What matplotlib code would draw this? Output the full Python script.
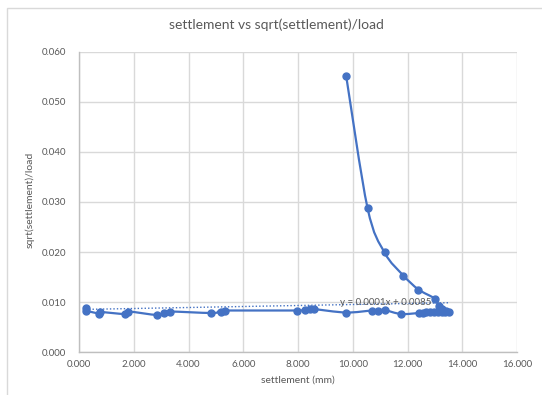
import numpy as np
import matplotlib
matplotlib.use("Agg")
import matplotlib.pyplot as plt
from matplotlib.path import Path
from matplotlib.patches import PathPatch, Rectangle
from matplotlib.ticker import FormatStrFormatter

# settlement (mm) and sqrt(settlement)/load, in test order
settlement = [9.76, 10.54, 11.16, 11.85, 12.40, 12.99, 13.14, 13.26, 13.42, 13.50,
              13.38, 13.25, 13.10, 12.95, 12.82, 12.68, 12.55, 12.41, 11.76, 11.16,
              10.94, 10.70, 9.75, 8.57, 8.45, 8.26, 7.96, 5.34, 5.18, 4.83,
              3.33, 3.12, 2.86, 1.80, 1.68, 0.77, 0.73, 0.25, 0.24]
ratio = [0.0552, 0.0288, 0.0199, 0.0153, 0.0125, 0.0107, 0.0093, 0.0086, 0.0082, 0.0081,
         0.0080, 0.0080, 0.0081, 0.0080, 0.0080, 0.0080, 0.0079, 0.0078, 0.0076, 0.0084,
         0.0083, 0.0083, 0.0079, 0.0086, 0.0086, 0.0085, 0.0083, 0.0083, 0.0081, 0.0078,
         0.0081, 0.0079, 0.0074, 0.0081, 0.0076, 0.0080, 0.0077, 0.0083, 0.0088]

# linear trendline as reported on the chart
trend_slope = 0.0001
trend_intercept = 0.0085
trend_label = "y = 0.0001x + 0.0085"

x_ticks = [0, 2, 4, 6, 8, 10, 12, 14, 16]
y_ticks = [0.0, 0.01, 0.02, 0.03, 0.04, 0.05, 0.06]

BLUE = "#4472C4"
TEXT = "#595959"
GRID = "#D9D9D9"
FONT = "Lato"

plt.rcParams["font.family"] = [FONT, "DejaVu Sans"]

W, H = 542, 395
fig = plt.figure(figsize=(W / 100, H / 100), dpi=100)
fig.patch.set_facecolor("white")

# chart frame
fig.patches.append(Rectangle((6.5 / W, -0.05), 1.2, (H - 7.5) / H + 0.05,
                             transform=fig.transFigure, fill=False,
                             edgecolor=GRID, linewidth=1.0))

ax = fig.add_axes([79 / W, (H - 352) / H, (517 - 79) / W, (352 - 52) / H])
ax.set_xlim(x_ticks[0], x_ticks[-1])
ax.set_ylim(y_ticks[0], y_ticks[-1])
ax.set_xticks(x_ticks)
ax.set_yticks(y_ticks)
ax.xaxis.set_major_formatter(FormatStrFormatter("%.3f"))
ax.yaxis.set_major_formatter(FormatStrFormatter("%.3f"))
ax.tick_params(length=0, labelsize=7, colors=TEXT)
ax.tick_params(axis="x", pad=6)
ax.tick_params(axis="y", pad=9)
ax.grid(True, color=GRID, linewidth=1.0)
ax.set_axisbelow(True)
for side in ("top", "right"):
    ax.spines[side].set_visible(False)
for side in ("left", "bottom"):
    ax.spines[side].set_color("#BFBFBF")
    ax.spines[side].set_linewidth(1.0)


def smooth_path(xs, ys):
    """Catmull-Rom style cubic Bezier through all points."""
    pts = np.column_stack([xs, ys])
    n = len(pts)
    verts = [pts[0]]
    codes = [Path.MOVETO]
    for i in range(n - 1):
        p0 = pts[max(i - 1, 0)]
        p1 = pts[i]
        p2 = pts[i + 1]
        p3 = pts[min(i + 2, n - 1)]
        c1 = p1 + (p2 - p0) / 6.0
        c2 = p2 - (p3 - p1) / 6.0
        verts += [c1, c2, p2]
        codes += [Path.CURVE4] * 3
    return Path(verts, codes)


ax.add_patch(PathPatch(smooth_path(settlement, ratio), facecolor="none",
                       edgecolor=BLUE, linewidth=1.6, zorder=3))
ax.plot(settlement, ratio, linestyle="none", marker="o", markersize=5,
        color=BLUE, zorder=4)

# trendline over the data range
tx = np.array([min(settlement), max(settlement)])
ax.plot(tx, trend_slope * tx + trend_intercept, color=BLUE, linewidth=1.0,
        linestyle=(0, (1, 1.5)), zorder=2)
ax.text(9.55, 0.0099, trend_label, fontsize=7, color=TEXT, ha="left",
        va="center", zorder=5)

fig.text(276 / W, 1 - 25 / H, "settlement vs sqrt(settlement)/load",
         fontsize=10, color=TEXT, ha="center", va="center")
fig.text(298 / W, 1 - 380 / H, "settlement (mm)", fontsize=7.5, color=TEXT,
         ha="center", va="center")
fig.text(30 / W, 1 - 200 / H, "sqrt(settlement)/load", fontsize=7.5, color=TEXT,
         ha="center", va="center", rotation=90)

fig.savefig("out.png", dpi=100)
